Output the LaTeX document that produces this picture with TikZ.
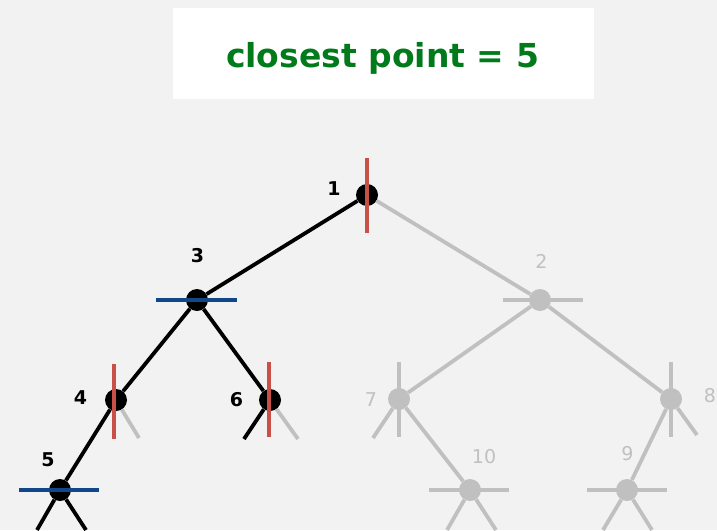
\documentclass[tikz,border=0pt]{standalone}
\usepackage{fontspec}
\setmainfont{DejaVu Sans}
\usepackage{xcolor}
\usetikzlibrary{positioning}

\definecolor{bggray}{RGB}{242,242,242}
\definecolor{titlegreen}{RGB}{0,122,26}
\definecolor{splitred}{RGB}{200,80,72}
\definecolor{splitblue}{RGB}{16,70,138}
\definecolor{treegray}{RGB}{192,192,192}

\begin{document}
\begin{tikzpicture}[
  x=1pt, y=-1pt,
  titlebox/.style={rectangle, fill=white, minimum width=421pt, minimum height=91pt},
  titletext/.style={inner sep=0pt, text=titlegreen, font=\fontsize{33}{40}\selectfont\bfseries},
  pt/.style={circle, inner sep=0pt, minimum size=22pt, fill=black},
  ptgray/.style={pt, fill=treegray},
  treeline/.style={line width=3.8pt},
  treelinegray/.style={treeline, draw=treegray},
  vsplit/.style={line width=4pt, draw=splitred},
  hsplit/.style={line width=4pt, draw=splitblue},
  vsplitgray/.style={vsplit, draw=treegray},
  hsplitgray/.style={hsplit, draw=treegray},
  lbl/.style={inner sep=0pt, font=\fontsize{19}{19}\selectfont\bfseries},
  lblgray/.style={lbl, text=treegray, font=\fontsize{19}{19}\selectfont},
]

%% --- Background and title ---
\fill[bggray] (0,0) rectangle (717,530);
\useasboundingbox (0,0) rectangle (717,530);
\node[titlebox] (box) at (383.5,53.5) {};
\node[titletext, anchor=base] (title) at (382.5,67) {closest point = 5};

%% --- Points (visited) ---
\node[pt] (n1) at (367,195) {};
\node[pt] (n3) at (197,300) {};
\node[pt] (n4) at (116,400) {};
\node[pt] (n6) at (270,400) {};
\node[pt] (n5) at (60,490)  {};

%% --- Points (pruned) ---
\node[ptgray] (n2)  at (540,300) {};
\node[ptgray] (n7)  at (399,399) {};
\node[ptgray] (n8)  at (671,399) {};
\node[ptgray] (n10) at (470,490) {};
\node[ptgray] (n9)  at (627,490) {};

%% --- Labels ---
\node[lbl] (l1) at (334,188.5) {1};
\node[lbl] (l3) at (197.5,255.5) {3};
\node[lbl] (l4) at (80.5,398) {4};
\node[lbl] (l6) at (236.5,400) {6};
\node[lbl] (l5) at (48,459.5) {5};
\node[lblgray] (l2)  at (541.5,261.5) {2};
\node[lblgray] (l7)  at (371,399.5) {7};
\node[lblgray] (l8)  at (710,395.5) {8};
\node[lblgray] (l10) at (484,457) {10};
\node[lblgray] (l9)  at (627.5,454) {9};

%% --- Empty subtrees ---
\coordinate (s4r)  at (139,438);
\coordinate (s6l)  at (244,439);
\coordinate (s6r)  at (298,439);
\coordinate (s7l)  at (373,438);
\coordinate (s8r)  at (697,435);
\coordinate (s5l)  at (37,530);
\coordinate (s5r)  at (86,530);
\coordinate (s10l) at (447,530);
\coordinate (s10r) at (496,530);
\coordinate (s9l)  at (603,530);
\coordinate (s9r)  at (652,530);

%% --- Tree links ---
\draw[treeline] (n1) -- (n3);
\draw[treeline] (n3) -- (n4);
\draw[treeline] (n3) -- (n6);
\draw[treeline] (n4) -- (n5);
\draw[treeline] (n6) -- (s6l);
\draw[treeline] (n5) -- (s5l);
\draw[treeline] (n5) -- (s5r);
\draw[treelinegray] (n1) -- (n2);
\draw[treelinegray] (n2) -- (n7);
\draw[treelinegray] (n2) -- (n8);
\draw[treelinegray] (n7) -- (n10);
\draw[treelinegray] (n8) -- (n9);
\draw[treelinegray] (n4) -- (s4r);
\draw[treelinegray] (n6) -- (s6r);
\draw[treelinegray] (n7) -- (s7l);
\draw[treelinegray] (n8) -- (s8r);
\draw[treelinegray] (n10) -- (s10l);
\draw[treelinegray] (n10) -- (s10r);
\draw[treelinegray] (n9) -- (s9l);
\draw[treelinegray] (n9) -- (s9r);

%% --- Splitting lines ---
\draw[vsplit] (n1.center) ++(0,-37) -- ++(0,75);
\draw[hsplit] (n3.center) ++(-41,0) -- ++(81,0);
\draw[vsplit] ([xshift=-2pt]n4.center) ++(0,-36) -- ++(0,75);
\draw[vsplit] ([xshift=-1pt]n6.center) ++(0,-38) -- ++(0,75);
\draw[hsplit] (n5.center) ++(-41,0) -- ++(80,0);
\draw[hsplitgray] (n2.center) ++(-37,0) -- ++(80,0);
\draw[vsplitgray] (n7.center) ++(0,-37) -- ++(0,75);
\draw[vsplitgray] (n8.center) ++(0,-37) -- ++(0,75);
\draw[hsplitgray] (n10.center) ++(-41,0) -- ++(80,0);
\draw[hsplitgray] (n9.center) ++(-40,0) -- ++(80,0);

\end{tikzpicture}
\end{document}
